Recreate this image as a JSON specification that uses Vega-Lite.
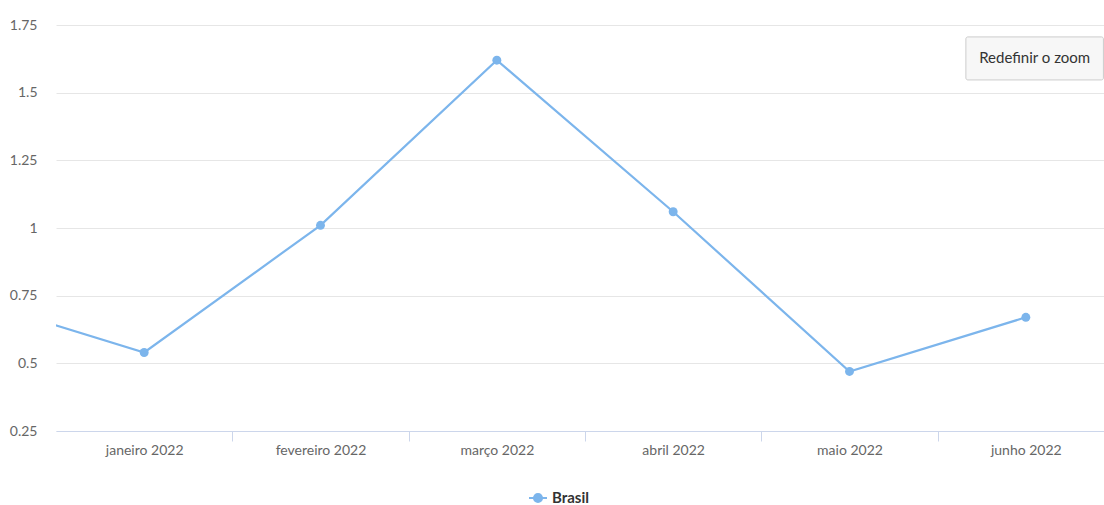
{
  "$schema": "https://vega.github.io/schema/vega-lite/v6.json",
  "width": 1058,
  "height": 406,
  "autosize": {"type": "none"},
  "padding": {"left": 56, "top": 25, "right": 0, "bottom": 74},
  "config": {"font": "Lato", "view": {"stroke": null}},
  "layer": [
    {
      "data": {
        "values": [
          {"i": 0, "mes": "dezembro 2021", "valor": 0.74, "serie": "Brasil"},
          {"i": 1, "mes": "janeiro 2022", "valor": 0.54, "serie": "Brasil"},
          {"i": 2, "mes": "fevereiro 2022", "valor": 1.01, "serie": "Brasil"},
          {"i": 3, "mes": "março 2022", "valor": 1.62, "serie": "Brasil"},
          {"i": 4, "mes": "abril 2022", "valor": 1.06, "serie": "Brasil"},
          {"i": 5, "mes": "maio 2022", "valor": 0.47, "serie": "Brasil"},
          {"i": 6, "mes": "junho 2022", "valor": 0.67, "serie": "Brasil"}
        ]
      },
      "layer": [
        {
          "mark": {"type": "line", "strokeWidth": 2.2, "clip": true},
          "encoding": {
            "x": {
              "field": "i",
              "type": "quantitative",
              "scale": {"domain": [0.5, 6.5], "nice": false, "zero": false},
              "axis": {
                "title": null,
                "grid": false,
                "values": [1, 1.5, 2, 2.5, 3, 3.5, 4, 4.5, 5, 5.5, 6],
                "labelExpr": "datum.value % 1 === 0 ? ['dezembro 2021','janeiro 2022','fevereiro 2022','março 2022','abril 2022','maio 2022','junho 2022'][datum.value] : ''",
                "labelFontSize": 14,
                "labelColor": "#666666",
                "labelPadding": 2,
                "labelFlush": false,
                "labelOverlap": false,
                "domainColor": "#ccd6eb",
                "tickSize": 10,
                "tickColor": {"condition": {"test": "datum.value % 1 === 0", "value": "transparent"}, "value": "#ccd6eb"}
              }
            },
            "y": {
              "field": "valor",
              "type": "quantitative",
              "scale": {"domain": [0.25, 1.75], "nice": false, "zero": false},
              "axis": {
                "title": null,
                "values": [0.25, 0.5, 0.75, 1, 1.25, 1.5, 1.75],
                "format": ".2~f",
                "domain": false,
                "ticks": false,
                "gridColor": "#e6e6e6",
                "labelFontSize": 14,
                "labelColor": "#666666",
                "labelPadding": 19
              }
            },
            "color": {
              "field": "serie",
              "type": "nominal",
              "scale": {"range": ["#7cb5ec"]},
              "legend": {
                "title": null,
                "orient": "none",
                "legendX": 472,
                "legendY": 463,
                "symbolType": "M-1,0L1,0M-0.45,0A0.45,0.45,0,1,0,0.45,0A0.45,0.45,0,1,0,-0.45,0Z",
                "symbolSize": 324,
                "symbolStrokeWidth": 2,
                "symbolFillColor": "#7cb5ec",
                "symbolStrokeColor": "#7cb5ec",
                "labelFontSize": 15,
                "labelFontWeight": "bold",
                "labelColor": "#333333"
              }
            }
          }
        },
        {
          "mark": {"type": "point", "filled": true, "size": 80, "opacity": 1, "clip": true},
          "encoding": {
            "x": {"field": "i", "type": "quantitative"},
            "y": {"field": "valor", "type": "quantitative"},
            "color": {"field": "serie", "type": "nominal"}
          }
        }
      ]
    },
    {
      "data": {"values": [{"botao": "Redefinir o zoom"}]},
      "layer": [
        {
          "mark": {"type": "rect", "fill": "#f7f7f7", "stroke": "#cccccc", "strokeWidth": 1, "cornerRadius": 2},
          "encoding": {
            "x": {"datum": 5.66},
            "x2": {"datum": 6.44},
            "y": {"datum": 1.706},
            "y2": {"datum": 1.547}
          }
        },
        {
          "mark": {"type": "text", "fontSize": 15, "fontWeight": "normal", "color": "#333333", "align": "center", "baseline": "middle"},
          "encoding": {
            "text": {"field": "botao", "type": "nominal"},
            "x": {"datum": 6.05},
            "y": {"datum": 1.627}
          }
        }
      ]
    }
  ]
}
